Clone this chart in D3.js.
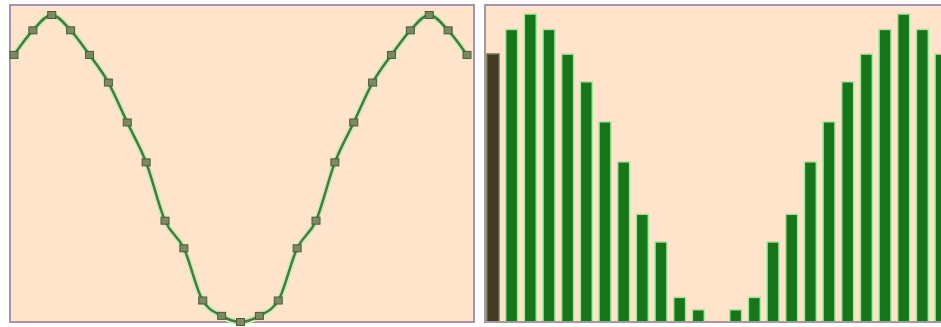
<!DOCTYPE html>
<html>
<head>
<meta charset="utf-8">
<script src="https://cdn.jsdelivr.net/npm/d3@7"></script>
<style>
  html, body { margin: 0; padding: 0; background: #ffffff; }
  svg { display: block; }
</style>
</head>
<body>
<div id="chart"></div>
<script>
// Sample index and the wave values (0..100 scale).
const samples = d3.range(25);
const lineValues = [87, 95, 100, 95, 87, 78, 65, 52, 33, 24, 7, 2, 0, 2, 7, 24, 33, 52, 65, 78, 87, 95, 100, 95, 87];
const barValues = [87, 95, 100, 95, 87, 78, 65, 52, 35, 26, 8, 4, 0, 4, 8, 26, 35, 52, 65, 78, 87, 95, 100, 95, 87];

const WIDTH = 941;
const HEIGHT = 327;
const BG = "#fde4ca";

const svg = d3.select("#chart")
    .append("svg")
    .attr("width", WIDTH)
    .attr("height", HEIGHT);

// Two panels side by side.
const leftPanel = { x: 10, y: 5, w: 464, h: 317 };
const rightPanel = { x: 485, y: 5, w: 470, h: 317 };

[leftPanel, rightPanel].forEach(p => {
    svg.append("rect")
        .attr("x", p.x)
        .attr("y", p.y)
        .attr("width", p.w)
        .attr("height", p.h)
        .attr("fill", BG)
        .attr("stroke", "#a896a8")
        .attr("stroke-width", 2);
});

// Left: line with square markers.
const xLine = d3.scaleLinear().domain([0, 24]).range([14, 467]);
const yLine = d3.scaleLinear().domain([0, 100]).range([322, 15]);

const line = d3.line()
    .x((d, i) => xLine(samples[i]))
    .y(d => yLine(d))
    .curve(d3.curveMonotoneX);

svg.append("path")
    .datum(lineValues)
    .attr("d", line)
    .attr("fill", "none")
    .attr("stroke", "#c8efb4")
    .attr("stroke-width", 6);

svg.append("path")
    .datum(lineValues)
    .attr("d", line)
    .attr("fill", "none")
    .attr("stroke", "#4d7540")
    .attr("stroke-width", 2.5);

svg.append("g")
    .selectAll("rect")
    .data(lineValues)
    .join("rect")
    .attr("x", (d, i) => xLine(samples[i]) - 4)
    .attr("y", d => yLine(d) - 3.5)
    .attr("width", 8)
    .attr("height", 7)
    .attr("fill", "#7a8a62")
    .attr("stroke", "#4c5a3a")
    .attr("stroke-width", 1);

// Right: bars.
const xBar = d3.scaleBand()
    .domain(samples)
    .range([487, 947])
    .paddingInner(0.36)
    .paddingOuter(0)
    .align(0);
const yBar = d3.scaleLinear().domain([0, 100]).range([322, 14]);

svg.append("g")
    .selectAll("rect")
    .data(barValues)
    .join("rect")
    .attr("x", (d, i) => xBar(samples[i]))
    .attr("y", d => yBar(d))
    .attr("width", xBar.bandwidth())
    .attr("height", d => yBar(0) - yBar(d))
    .attr("fill", (d, i) => i === 0 ? "#433a22" : "#17751a")
    .attr("stroke", (d, i) => i === 0 ? "#6a6a50" : "#a6eca0")
    .attr("stroke-width", d => d > 0 ? 1.5 : 0);

// Bottom edge of the bar panel over the bars.
svg.append("line")
    .attr("x1", rightPanel.x)
    .attr("x2", WIDTH)
    .attr("y1", 322)
    .attr("y2", 322)
    .attr("stroke", "#a896a8")
    .attr("stroke-width", 2);
</script>
</body>
</html>
